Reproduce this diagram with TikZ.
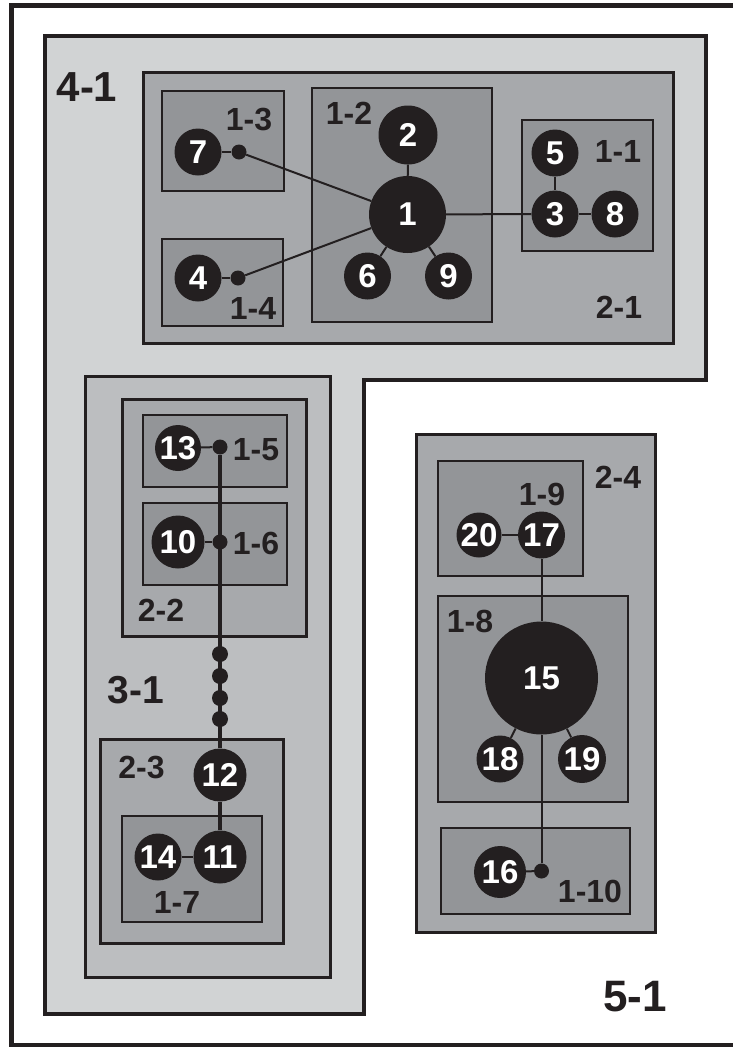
\documentclass[tikz,border=0pt]{standalone}
\usepackage{fontspec}
\setmainfont{Liberation Sans}
\definecolor{ink}{HTML}{231F20}
\definecolor{gA}{HTML}{D1D3D4}
\definecolor{gB}{HTML}{BCBEC0}
\definecolor{gC}{HTML}{A7A9AC}
\definecolor{gD}{HTML}{939598}
\tikzset{
  frame41/.style={draw=ink, fill=gA, line width=4.5pt},
  box2/.style={draw=ink, fill=gC, line width=3pt},
  box3/.style={draw=ink, fill=gB, line width=3pt},
  box1/.style={draw=ink, fill=gD, line width=2pt},
  nd/.style={circle, fill=ink, inner sep=0pt, text=white, font=\fontsize{33}{33}\selectfont\bfseries, minimum size=#1},
  nd/.default=47pt,
  pt/.style={circle, fill=ink, inner sep=0pt, minimum size=15pt},
  lab/.style={inner sep=0pt, text=ink, font=\fontsize{32}{32}\selectfont\bfseries},
  biglab/.style={inner sep=0pt, text=ink, font=\fontsize{42}{42}\selectfont\bfseries},
  ln/.style={draw=ink, line width=2pt},
  lnthick/.style={draw=ink, line width=3.3pt}
}
\begin{document}
\begin{tikzpicture}[x=1pt, y=-1pt]
\useasboundingbox (0,0) rectangle (733,1047);
\fill[white] (0,0) rectangle (733,1047);
% outer frame 5-1
\draw[draw=ink, line width=5pt] (11,5.5) rectangle (760,1045.5);
% 4-1 L-shaped region
\path[frame41] (45,36) -- (706,36) -- (706,380) -- (364,380) -- (364,1014) -- (45,1014) -- cycle;
% 2-1 group
\path[box2] (143.5,72) rectangle (673,343);
\path[box1] (162,91) rectangle (284,191);
\path[box1] (162,239) rectangle (283,326);
\path[box1] (312,88) rectangle (492,322);
\path[box1] (522,120) rectangle (653,251);
% 3-1 group
\path[box3] (85,376.5) rectangle (330,977);
\path[box2] (122.5,399.5) rectangle (306.5,636);
\path[box1] (143,415) rectangle (287,487);
\path[box1] (143,503) rectangle (287,585);
\path[box2] (100,739) rectangle (283,943);
\path[box1] (122,816) rectangle (262,922);
% 2-4 group
\path[box2] (416.5,434.5) rectangle (655,932.5);
\path[box1] (438,461) rectangle (583,576);
\path[box1] (438,596) rectangle (628,802);
\path[box1] (441,828) rectangle (630,914);

% labels
\node[biglab] (L41) at (87,87) {4-1};
\node[lab] (L21) at (619,307) {2-1};
\node[lab] (L13) at (249,120) {1-3};
\node[lab] (L14) at (253,308) {1-4};
\node[lab] (L12) at (349,113) {1-2};
\node[lab] (L11) at (618,151) {1-1};
\node[biglab, font=\fontsize{39}{39}\selectfont\bfseries] (L31) at (136,690) {3-1};
\node[lab] (L22) at (161,610) {2-2};
\node[lab] (L15) at (256,450) {1-5};
\node[lab] (L16) at (256,543) {1-6};
\node[lab] (L23) at (141.5,767) {2-3};
\node[lab] (L17) at (177,902) {1-7};
\node[lab] (L24) at (618,477) {2-4};
\node[lab] (L19) at (542,494) {1-9};
\node[lab] (L18) at (470,621) {1-8};
\node[lab] (L110) at (590,891) {1-10};
\node[biglab, font=\fontsize{44}{44}\selectfont\bfseries] (L51) at (635,997) {5-1};

% nodes top
\node[nd=77pt] (n1) at (407.5,214.5) {1};
\node[nd=59pt] (n2) at (408,135) {2};
\node[nd] (n6) at (367.5,276) {6};
\node[nd] (n9) at (448.5,276) {9};
\node[nd] (n7) at (198,152) {7};
\node[pt] (p7) at (239,152) {};
\node[nd] (n4) at (198,278) {4};
\node[pt] (p4) at (238,278) {};
\node[nd] (n5) at (555,153) {5};
\node[nd] (n3) at (555,214) {3};
\node[nd] (n8) at (615,214) {8};

% nodes 3-1
\node[nd=46pt] (n13) at (178,448) {13};
\node[pt] (p13) at (220,447) {};
\node[nd=53pt] (n10) at (178,542) {10};
\node[pt] (p10) at (220,542) {};
\node[pt, minimum size=16pt] (c1) at (220,654) {};
\node[pt, minimum size=16pt] (c2) at (220,676) {};
\node[pt, minimum size=16pt] (c3) at (220,698) {};
\node[pt, minimum size=16pt] (c4) at (220,719) {};
\node[nd=53pt] (n12) at (220,775) {12};
\node[nd=53pt] (n11) at (220,857) {11};
\node[nd] (n14) at (158,857) {14};

% nodes 2-4
\node[nd=45pt] (n20) at (479,535) {20};
\node[nd] (n17) at (541.5,535) {17};
\node[nd=113pt] (n15) at (541.5,678) {15};
\node[nd] (n18) at (500,759) {18};
\node[nd=48pt] (n19) at (582,759) {19};
\node[nd=52pt] (n16) at (500,872) {16};
\node[pt] (p16) at (541.5,871) {};

% connectors top
\draw[ln] (n7) -- (p7);
\draw[ln] (p7) -- (n1);
\draw[ln] (n4) -- (p4);
\draw[ln] (p4) -- (n1);
\draw[ln] (n2) -- (n1);
\draw[ln] (n1) -- (n6);
\draw[ln] (n1) -- (n9);
\draw[ln] (n1) -- (n3);
\draw[ln] (n5) -- (n3);
\draw[ln] (n3) -- (n8);
% connectors 3-1
\draw[ln] (n13) -- (p13);
\draw[ln] (n10) -- (p10);
\draw[lnthick] (p13) -- (n12);
\draw[lnthick] (n12) -- (n11);
\draw[ln] (n14) -- (n11);
% connectors 2-4
\draw[ln] (n20) -- (n17);
\draw[ln] (n17) -- (n15);
\draw[ln] (n15) -- (n18);
\draw[ln] (n15) -- (n19);
\draw[ln] (n15) -- (p16);
\draw[ln] (n16) -- (p16);
\end{tikzpicture}
\end{document}
